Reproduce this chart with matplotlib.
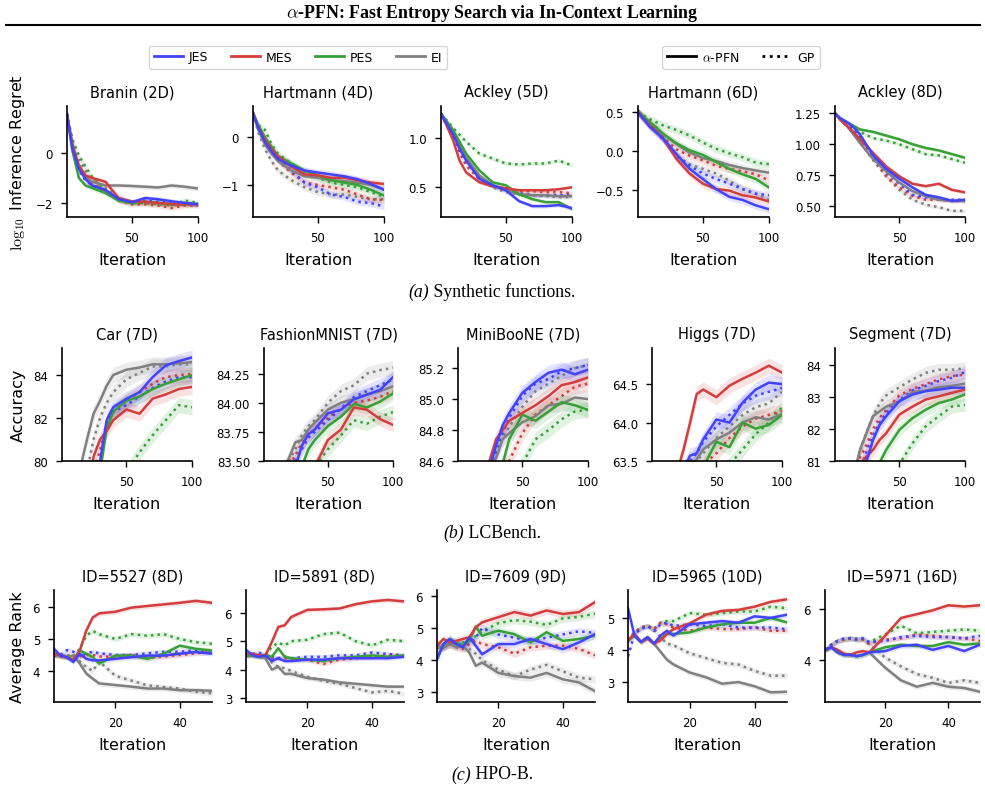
import numpy as np
import matplotlib.pyplot as plt
from matplotlib.lines import Line2D

plt.rcParams["font.family"] = "DejaVu Sans"
plt.rcParams["mathtext.fontset"] = "cm"

methods = ["JES", "MES", "PES", "EI"]
colors = ["#4343ff", "#d43d3d", "#37a137", "#808080"]

x_syn = [1, 5, 10, 15, 20, 30, 40, 50, 60, 70, 80, 90, 100]
x_lcb = [1, 15, 20, 25, 30, 35, 40, 50, 60, 70, 80, 90, 100]
x_hpo = [1, 3, 5, 7, 9, 11, 13, 15, 20, 25, 30, 35, 40, 45, 50]

# each block: rows are JES, MES, PES, EI
# ---- (a) synthetic functions, log10 inference regret
branin_pfn = [
    [1.55, 0.2, -0.64, -1.04, -1.3, -1.48, -1.84, -1.97, -1.8, -1.85, -1.93, -2.0, -2.05],
    [1.55, 0.3, -0.5, -0.9, -1.0, -1.15, -1.8, -1.95, -1.95, -2.0, -2.05, -2.05, -2.05],
    [1.55, 0.1, -1.0, -1.3, -1.4, -1.6, -1.9, -2.0, -1.95, -2.0, -2.05, -2.05, -2.05],
    [1.55, 0.4, -0.6, -1.0, -1.15, -1.3, -1.3, -1.32, -1.35, -1.38, -1.3, -1.35, -1.42],
]
branin_gp = [
    [1.55, 0.3, -0.7, -1.1, -1.3, -1.5, -1.85, -1.95, -1.9, -1.95, -2.0, -2.0, -2.05],
    [1.55, 0.4, -0.5, -0.9, -1.2, -1.55, -1.9, -2.05, -2.05, -2.1, -2.2, -2.1, -2.1],
    [1.55, 0.56, -0.1, -0.55, -0.95, -1.5, -1.9, -2.0, -2.0, -2.05, -2.1, -1.9, -2.0],
    [1.55, 0.5, -0.3, -0.7, -1.1, -1.4, -1.8, -1.95, -2.0, -2.0, -2.05, -2.05, -2.05],
]
hart4_pfn = [
    [0.5, 0.2, -0.1, -0.3, -0.46, -0.6, -0.7, -0.74, -0.78, -0.82, -0.88, -0.98, -1.1],
    [0.5, 0.2, -0.05, -0.25, -0.4, -0.62, -0.78, -0.8, -0.85, -0.85, -0.9, -0.95, -0.98],
    [0.5, 0.25, 0.0, -0.2, -0.4, -0.55, -0.7, -0.8, -0.9, -0.95, -1.0, -1.1, -1.22],
    [0.5, 0.15, -0.15, -0.35, -0.5, -0.7, -0.82, -0.85, -0.9, -0.92, -0.95, -1.0, -1.1],
]
hart4_gp = [
    [0.5, 0.15, -0.1, -0.3, -0.45, -0.7, -0.95, -1.05, -1.2, -1.25, -1.35, -1.38, -1.45],
    [0.5, 0.2, -0.1, -0.3, -0.5, -0.75, -0.95, -1.0, -1.05, -1.1, -1.2, -1.3, -1.32],
    [0.5, 0.25, 0.15, -0.15, -0.35, -0.55, -0.75, -0.85, -0.95, -1.0, -1.05, -1.15, -1.25],
    [0.5, 0.1, -0.25, -0.5, -0.7, -0.9, -1.05, -1.15, -1.2, -1.2, -1.25, -1.3, -1.3],
]
ack5_pfn = [
    [1.24, 1.15, 1.04, 0.89, 0.77, 0.585, 0.52, 0.47, 0.36, 0.31, 0.31, 0.32, 0.29],
    [1.24, 1.13, 0.98, 0.77, 0.65, 0.55, 0.51, 0.49, 0.47, 0.47, 0.47, 0.48, 0.50],
    [1.24, 1.17, 1.08, 0.96, 0.84, 0.67, 0.55, 0.52, 0.43, 0.38, 0.35, 0.35, 0.28],
    [1.24, 1.16, 1.06, 0.94, 0.8, 0.62, 0.52, 0.47, 0.43, 0.42, 0.42, 0.41, 0.41],
]
ack5_gp = [
    [1.24, 1.15, 1.02, 0.88, 0.76, 0.6, 0.52, 0.47, 0.44, 0.42, 0.42, 0.42, 0.42],
    [1.24, 1.13, 1.0, 0.85, 0.72, 0.58, 0.52, 0.48, 0.46, 0.46, 0.45, 0.45, 0.44],
    [1.24, 1.18, 1.1, 1.03, 0.96, 0.84, 0.79, 0.74, 0.73, 0.74, 0.74, 0.77, 0.72],
    [1.24, 1.16, 1.05, 0.92, 0.78, 0.58, 0.5, 0.45, 0.43, 0.42, 0.41, 0.40, 0.40],
]
hart6_pfn = [
    [0.5, 0.42, 0.31, 0.24, 0.16, -0.04, -0.23, -0.36, -0.49, -0.59, -0.63, -0.7, -0.75],
    [0.5, 0.42, 0.33, 0.25, 0.16, -0.1, -0.29, -0.42, -0.49, -0.51, -0.57, -0.6, -0.65],
    [0.5, 0.44, 0.37, 0.3, 0.22, 0.1, 0.01, -0.05, -0.14, -0.23, -0.3, -0.36, -0.47],
    [0.5, 0.44, 0.37, 0.3, 0.22, 0.09, -0.02, -0.09, -0.13, -0.18, -0.22, -0.25, -0.28],
]
hart6_gp = [
    [0.5, 0.42, 0.32, 0.24, 0.15, -0.06, -0.19, -0.29, -0.36, -0.42, -0.49, -0.55, -0.57],
    [0.5, 0.43, 0.34, 0.26, 0.18, 0.02, -0.06, -0.12, -0.19, -0.23, -0.26, -0.3, -0.38],
    [0.5, 0.46, 0.41, 0.37, 0.33, 0.27, 0.2, 0.11, 0.03, -0.03, -0.08, -0.15, -0.17],
    [0.5, 0.42, 0.33, 0.24, 0.15, -0.06, -0.17, -0.23, -0.29, -0.38, -0.49, -0.55, -0.63],
]
ack8_pfn = [
    [1.25, 1.21, 1.18, 1.14, 1.08, 0.91, 0.8, 0.72, 0.65, 0.59, 0.57, 0.54, 0.55],
    [1.25, 1.2, 1.15, 1.1, 1.04, 0.93, 0.82, 0.74, 0.68, 0.66, 0.68, 0.63, 0.61],
    [1.25, 1.21, 1.18, 1.15, 1.12, 1.1, 1.07, 1.04, 1.0, 0.97, 0.95, 0.92, 0.89],
    [1.25, 1.2, 1.15, 1.08, 1.01, 0.88, 0.78, 0.69, 0.62, 0.58, 0.55, 0.54, 0.54],
]
ack8_gp = [
    [1.25, 1.21, 1.17, 1.12, 1.06, 0.92, 0.77, 0.68, 0.59, 0.57, 0.56, 0.55, 0.55],
    [1.25, 1.2, 1.15, 1.1, 1.04, 0.9, 0.74, 0.65, 0.58, 0.55, 0.55, 0.54, 0.54],
    [1.25, 1.21, 1.17, 1.13, 1.1, 1.05, 1.03, 1.0, 0.96, 0.92, 0.91, 0.88, 0.85],
    [1.25, 1.2, 1.15, 1.09, 1.02, 0.87, 0.74, 0.63, 0.55, 0.51, 0.49, 0.46, 0.46],
]

# ---- (b) LCBench, accuracy
car_pfn = [
    [74, 76, 77.5, 78.5, 80.0, 81.9, 82.5, 82.9, 83.2, 83.9, 84.45, 84.65, 84.82],
    [74, 76.5, 78.0, 80.2, 81.0, 81.4, 81.9, 82.4, 82.2, 82.9, 83.1, 83.35, 83.45],
    [74, 76, 77, 78.3, 79.5, 81.5, 82.3, 82.8, 83.0, 83.35, 83.6, 83.8, 84.0],
    [75, 79.7, 81.0, 82.2, 82.8, 83.5, 84.0, 84.25, 84.35, 84.5, 84.5, 84.55, 84.6],
]
car_gp = [
    [74, 76, 77.5, 78.8, 79.8, 81.8, 82.3, 82.6, 83.0, 83.4, 83.7, 83.9, 83.9],
    [74, 76.5, 78, 79.5, 80.5, 81.8, 82.3, 82.8, 83.2, 83.6, 83.9, 84.0, 84.05],
    [72, 73.5, 74.5, 75.5, 76.5, 77.5, 78.3, 79.5, 80.4, 81.2, 81.9, 82.6, 82.5],
    [75, 78.5, 79.5, 81.0, 82.0, 82.7, 83.2, 83.8, 84.1, 84.4, 84.4, 84.5, 84.5],
]
fashion_pfn = [
    [83.0, 83.25, 83.35, 83.45, 83.63, 83.73, 83.77, 83.91, 83.94, 84.03, 84.07, 84.11, 84.22],
    [83.0, 83.2, 83.3, 83.35, 83.4, 83.42, 83.45, 83.68, 83.77, 83.96, 83.94, 83.86, 83.81],
    [83.0, 83.2, 83.3, 83.38, 83.45, 83.6, 83.68, 83.8, 83.88, 83.99, 83.96, 84.01, 84.08],
    [83.1, 83.42, 83.52, 83.66, 83.68, 83.77, 83.83, 83.94, 84.0, 84.03, 84.07, 84.1, 84.14],
]
fashion_gp = [
    [83.0, 83.3, 83.4, 83.5, 83.6, 83.7, 83.75, 83.85, 83.95, 84.05, 84.1, 84.15, 84.2],
    [83.0, 83.35, 83.45, 83.55, 83.65, 83.72, 83.78, 83.87, 83.95, 84.0, 84.02, 84.05, 84.1],
    [82.8, 83.0, 83.1, 83.2, 83.3, 83.38, 83.45, 83.6, 83.72, 83.85, 83.82, 83.88, 83.92],
    [83.1, 83.4, 83.5, 83.6, 83.72, 83.8, 83.85, 84.0, 84.1, 84.15, 84.25, 84.28, 84.3],
]
miniboone_pfn = [
    [84.2, 84.35, 84.45, 84.55, 84.7, 84.83, 84.91, 85.04, 85.11, 85.17, 85.19, 85.16, 85.19],
    [84.2, 84.35, 84.45, 84.6, 84.74, 84.8, 84.86, 84.91, 84.96, 85.02, 85.09, 85.11, 85.14],
    [84.1, 84.25, 84.35, 84.45, 84.52, 84.58, 84.74, 84.9, 84.86, 84.92, 84.98, 84.96, 84.93],
    [84.2, 84.35, 84.45, 84.55, 84.62, 84.74, 84.78, 84.85, 84.89, 84.96, 84.97, 85.01, 85.0],
]
miniboone_gp = [
    [84.2, 84.35, 84.45, 84.55, 84.65, 84.78, 84.88, 85.02, 85.1, 85.13, 85.18, 85.2, 85.22],
    [84.1, 84.25, 84.35, 84.42, 84.5, 84.55, 84.6, 84.78, 84.9, 84.96, 85.02, 85.08, 85.1],
    [84.0, 84.15, 84.25, 84.32, 84.38, 84.43, 84.48, 84.58, 84.74, 84.8, 84.87, 84.92, 84.93],
    [84.2, 84.35, 84.45, 84.55, 84.65, 84.75, 84.82, 84.95, 85.05, 85.1, 85.15, 85.2, 85.22],
]
higgs_pfn = [
    [62.5, 62.9, 63.1, 63.4, 63.57, 63.6, 63.78, 64.04, 64.0, 64.26, 64.43, 64.52, 64.5],
    [62.5, 63.0, 63.35, 63.65, 64.0, 64.37, 64.43, 64.33, 64.48, 64.57, 64.65, 64.74, 64.65],
    [62.3, 62.6, 62.8, 63.0, 63.15, 63.3, 63.42, 63.75, 63.68, 64.0, 63.92, 63.97, 64.1],
    [62.5, 62.9, 63.1, 63.25, 63.4, 63.52, 63.65, 63.78, 63.87, 64.0, 64.07, 64.04, 64.11],
]
higgs_gp = [
    [62.5, 62.9, 63.1, 63.3, 63.5, 63.6, 63.75, 63.95, 64.1, 64.25, 64.35, 64.4, 64.45],
    [62.3, 62.6, 62.8, 63.0, 63.15, 63.3, 63.45, 63.6, 63.8, 63.95, 64.05, 64.1, 64.15],
    [62.0, 62.3, 62.5, 62.7, 62.85, 63.0, 63.1, 63.3, 63.45, 63.65, 63.85, 64.0, 64.2],
    [62.5, 62.9, 63.1, 63.25, 63.4, 63.5, 63.6, 63.8, 63.95, 64.1, 64.2, 64.25, 64.4],
]
segment_pfn = [
    [78.5, 79.5, 80.2, 81.0, 81.66, 82.13, 82.4, 82.87, 83.08, 83.18, 83.23, 83.29, 83.29],
    [78.5, 80.0, 80.9, 81.14, 81.35, 81.66, 81.87, 82.45, 82.7, 82.92, 83.02, 83.13, 83.23],
    [78.0, 79.0, 79.6, 80.1, 80.5, 80.95, 81.35, 81.97, 82.34, 82.6, 82.81, 82.92, 83.08],
    [79.0, 80.5, 81.35, 81.87, 82.4, 82.55, 82.7, 82.85, 83.15, 83.2, 83.3, 83.35, 83.42],
]
segment_gp = [
    [78.5, 80.0, 80.7, 81.3, 81.8, 82.2, 82.5, 82.9, 83.2, 83.35, 83.5, 83.6, 83.78],
    [78.5, 80.3, 81.1, 81.5, 82.0, 82.35, 82.6, 83.05, 83.25, 83.4, 83.55, 83.65, 83.7],
    [77.0, 78.0, 78.5, 79.0, 79.5, 79.9, 80.3, 80.9, 81.55, 82.08, 82.4, 82.7, 82.75],
    [79.0, 80.6, 81.3, 81.9, 82.4, 82.8, 83.05, 83.3, 83.55, 83.75, 83.85, 83.85, 83.9],
]

# ---- (c) HPO-B, average rank
id5527_pfn = [
    [4.69, 4.48, 4.43, 4.28, 4.54, 4.38, 4.33, 4.33, 4.38, 4.43, 4.48, 4.48, 4.54, 4.59, 4.54],
    [4.54, 4.48, 4.43, 4.33, 4.64, 5.26, 5.67, 5.8, 5.85, 5.98, 6.03, 6.08, 6.13, 6.19, 6.13],
    [4.54, 4.48, 4.43, 4.33, 4.64, 4.54, 4.43, 4.23, 4.48, 4.48, 4.38, 4.54, 4.79, 4.69, 4.64],
    [4.54, 4.48, 4.43, 4.48, 4.23, 3.92, 3.76, 3.61, 3.56, 3.51, 3.45, 3.45, 3.4, 3.4, 3.38],
]
id5527_gp = [
    [4.5, 4.5, 4.65, 4.6, 4.45, 4.55, 4.6, 4.55, 4.5, 4.5, 4.55, 4.6, 4.6, 4.65, 4.6],
    [4.5, 4.45, 4.45, 4.4, 4.45, 4.5, 4.5, 4.45, 4.45, 4.5, 4.4, 4.45, 4.5, 4.55, 4.6],
    [4.5, 4.5, 4.45, 4.45, 4.7, 5.1, 5.25, 5.15, 5.0, 5.15, 5.1, 5.15, 5.0, 4.9, 4.85],
    [4.5, 4.5, 4.5, 4.45, 4.3, 4.12, 4.0, 4.3, 3.85, 3.7, 3.55, 3.5, 3.45, 3.35, 3.3],
]
id5891_pfn = [
    [4.7, 4.5, 4.45, 4.5, 4.3, 4.4, 4.3, 4.3, 4.35, 4.35, 4.4, 4.4, 4.4, 4.4, 4.45],
    [4.56, 4.56, 4.5, 4.5, 4.97, 5.5, 5.56, 5.85, 6.1, 6.12, 6.15, 6.3, 6.4, 6.45, 6.4],
    [4.5, 4.5, 4.45, 4.5, 4.45, 4.75, 4.45, 4.4, 4.35, 4.3, 4.4, 4.45, 4.5, 4.45, 4.5],
    [4.5, 4.5, 4.45, 4.4, 4.0, 4.1, 3.85, 3.85, 3.7, 3.65, 3.55, 3.5, 3.45, 3.4, 3.4],
]
id5891_gp = [
    [4.5, 4.55, 4.6, 4.5, 4.45, 4.4, 4.45, 4.4, 4.45, 4.45, 4.5, 4.5, 4.6, 4.55, 4.5],
    [4.5, 4.5, 4.5, 4.55, 4.4, 4.4, 4.4, 4.35, 4.35, 4.2, 4.35, 4.4, 4.45, 4.5, 4.5],
    [4.5, 4.5, 4.5, 4.5, 4.8, 4.95, 4.85, 5.0, 5.05, 5.25, 5.3, 5.0, 4.85, 5.05, 5.0],
    [4.5, 4.5, 4.45, 4.45, 4.25, 4.1, 4.05, 3.95, 3.75, 3.6, 3.5, 3.35, 3.2, 3.25, 3.15],
]
id7609_pfn = [
    [4.03, 4.5, 4.66, 4.5, 4.4, 4.71, 4.45, 4.18, 4.5, 4.5, 4.66, 4.5, 4.34, 4.55, 4.81],
    [4.45, 4.66, 4.55, 4.6, 4.66, 4.71, 5.02, 5.18, 5.34, 5.5, 5.39, 5.55, 5.44, 5.5, 5.81],
    [4.03, 4.5, 4.66, 4.55, 4.45, 4.6, 5.05, 4.76, 4.92, 4.81, 4.55, 4.87, 4.6, 4.66, 4.76],
    [4.4, 4.4, 4.5, 4.4, 4.45, 4.24, 3.82, 3.92, 3.6, 3.5, 3.45, 3.6, 3.4, 3.3, 3.03],
]
id7609_gp = [
    [4.5, 4.4, 4.6, 4.5, 4.5, 4.55, 4.7, 5.0, 4.8, 4.7, 4.6, 4.7, 4.8, 4.9, 4.85],
    [4.4, 4.4, 4.5, 4.4, 4.35, 4.5, 4.6, 4.5, 4.4, 4.2, 4.4, 4.45, 4.45, 4.35, 4.15],
    [4.4, 4.45, 4.5, 4.45, 4.55, 4.6, 4.75, 4.9, 5.15, 5.25, 5.2, 5.1, 5.3, 5.35, 5.45],
    [4.4, 4.45, 4.5, 4.5, 4.4, 4.35, 4.2, 4.0, 3.7, 3.5, 3.7, 3.85, 3.65, 3.45, 3.4],
]
id5965_pfn = [
    [5.3, 4.45, 4.25, 4.4, 4.2, 4.45, 4.6, 4.45, 4.8, 4.85, 4.9, 4.85, 5.05, 5.0, 5.1],
    [4.3, 4.5, 4.25, 4.35, 4.2, 4.3, 4.5, 4.65, 4.83, 5.1, 5.22, 5.25, 5.35, 5.5, 5.58],
    [4.3, 4.45, 4.25, 4.4, 4.2, 4.35, 4.5, 4.5, 4.55, 4.7, 4.8, 4.85, 4.85, 5.0, 4.86],
    [4.3, 4.45, 4.25, 4.4, 4.2, 3.95, 3.7, 3.55, 3.3, 3.15, 2.95, 3.0, 2.87, 2.68, 2.7],
]
id5965_gp = [
    [3.8, 4.5, 4.65, 4.75, 4.6, 4.8, 4.85, 4.75, 4.8, 4.75, 4.8, 4.7, 4.7, 4.7, 4.65],
    [4.3, 4.55, 4.7, 4.75, 4.65, 4.85, 4.8, 4.7, 4.6, 4.7, 4.65, 4.65, 4.7, 4.6, 4.6],
    [4.3, 4.55, 4.7, 4.75, 4.65, 4.85, 4.9, 4.9, 5.15, 5.1, 5.15, 5.2, 5.2, 5.35, 5.3],
    [4.3, 4.55, 4.7, 4.75, 4.65, 4.4, 4.2, 4.15, 3.9, 3.75, 3.6, 3.55, 3.35, 3.2, 3.2],
]
id5971_pfn = [
    [4.4, 4.5, 4.3, 4.2, 4.2, 4.15, 4.2, 4.3, 4.35, 4.55, 4.6, 4.4, 4.55, 4.35, 4.6],
    [4.4, 4.5, 4.4, 4.25, 4.2, 4.3, 4.35, 4.3, 4.95, 5.65, 5.8, 5.95, 6.15, 6.1, 6.15],
    [4.4, 4.5, 4.3, 4.2, 4.2, 4.15, 4.2, 4.3, 4.5, 4.6, 4.55, 4.55, 4.7, 4.6, 4.65],
    [4.4, 4.5, 4.3, 4.2, 4.2, 4.15, 4.2, 4.3, 3.7, 3.2, 2.95, 3.1, 2.95, 2.9, 2.75],
]
id5971_gp = [
    [4.4, 4.6, 4.75, 4.85, 4.85, 4.8, 4.85, 4.7, 4.75, 4.9, 4.95, 4.9, 4.9, 4.85, 4.95],
    [4.4, 4.6, 4.75, 4.8, 4.85, 4.8, 4.8, 4.65, 4.8, 4.85, 5.0, 4.95, 4.9, 4.85, 4.75],
    [4.4, 4.6, 4.75, 4.8, 4.85, 4.8, 4.85, 4.7, 5.0, 5.35, 5.05, 5.1, 5.15, 5.2, 5.15],
    [4.4, 4.6, 4.75, 4.8, 4.85, 4.85, 4.8, 4.6, 4.1, 3.75, 3.45, 3.3, 3.1, 3.2, 3.1],
]

# half-width of the shaded band in each panel
bands = {
    "Branin (2D)": 0.1, "Hartmann (4D)": 0.07, "Ackley (5D)": 0.02,
    "Hartmann (6D)": 0.05, "Ackley (8D)": 0.015,
    "Car (7D)": 0.35, "FashionMNIST (7D)": 0.06, "MiniBooNE (7D)": 0.05,
    "Higgs (7D)": 0.1, "Segment (7D)": 0.2,
    "ID=5527 (8D)": 0.08, "ID=5891 (8D)": 0.08, "ID=7609 (9D)": 0.12,
    "ID=5965 (10D)": 0.08, "ID=5971 (16D)": 0.1,
}

rows = [
    [("Branin (2D)", x_syn, branin_pfn, branin_gp, (-2.56, 1.88), [-2, 0]),
     ("Hartmann (4D)", x_syn, hart4_pfn, hart4_gp, (-1.67, 0.65), [-1, 0]),
     ("Ackley (5D)", x_syn, ack5_pfn, ack5_gp, (0.2, 1.32), [0.5, 1.0]),
     ("Hartmann (6D)", x_syn, hart6_pfn, hart6_gp, (-0.85, 0.58), [-0.5, 0.0, 0.5]),
     ("Ackley (8D)", x_syn, ack8_pfn, ack8_gp, (0.41, 1.31), [0.5, 0.75, 1.0, 1.25])],
    [("Car (7D)", x_lcb, car_pfn, car_gp, (80, 85.26), [80, 82, 84]),
     ("FashionMNIST (7D)", x_lcb, fashion_pfn, fashion_gp, (83.5, 84.47), [83.5, 83.75, 84.0, 84.25]),
     ("MiniBooNE (7D)", x_lcb, miniboone_pfn, miniboone_gp, (84.6, 85.33), [84.6, 84.8, 85.0, 85.2]),
     ("Higgs (7D)", x_lcb, higgs_pfn, higgs_gp, (63.5, 64.97), [63.5, 64.0, 64.5]),
     ("Segment (7D)", x_lcb, segment_pfn, segment_gp, (81, 84.53), [81, 82, 83, 84])],
    [("ID=5527 (8D)", x_hpo, id5527_pfn, id5527_gp, (3.03, 6.53), [4, 5, 6]),
     ("ID=5891 (8D)", x_hpo, id5891_pfn, id5891_gp, (2.86, 6.8), [3, 4, 5, 6]),
     ("ID=7609 (9D)", x_hpo, id7609_pfn, id7609_gp, (2.69, 6.19), [3, 4, 5, 6]),
     ("ID=5965 (10D)", x_hpo, id5965_pfn, id5965_gp, (2.38, 5.87), [3, 4, 5]),
     ("ID=5971 (16D)", x_hpo, id5971_pfn, id5971_gp, (2.35, 6.75), [4, 6])],
]
row_xticks = [[50, 100], [50, 100], [20, 40]]
row_xlim = [(1, 100), (1, 100), (1, 50)]
row_ylabels = [r"$\log_{10}$ Inference Regret", "Accuracy", "Average Rank"]
captions = [("(a)", " Synthetic functions."), ("(b)", " LCBench."), ("(c)", " HPO-B.")]

# layout in pixels (figure is 985 x 803)
W, H = 985, 803
row_y = [(107, 218), (349, 462), (591, 703)]
row_x = [
    [(67, 198), (253, 384), (441, 572), (638, 769), (835, 965)],
    [(62, 192), (264, 393), (458, 588), (652, 782), (835, 965)],
    [(54, 212), (246, 404), (437, 595), (628, 787), (825, 980)],
]
caption_y = [292, 533, 775]

fig = plt.figure(figsize=(W / 100, H / 100), dpi=100)
renderer = fig.canvas.get_renderer()

for r, panels in enumerate(rows):
    top, bot = row_y[r]
    for c, (name, x, pfn, gp, ylim, yticks) in enumerate(panels):
        l, rr = row_x[r][c]
        ax = fig.add_axes([l / W, 1 - bot / H, (rr - l) / W, (bot - top) / H])
        band = bands[name]
        for vals, ls in ((gp, ":"), (pfn, "-")):
            for k in [3, 2, 1, 0]:
                v = np.array(vals[k], dtype=float)
                ax.fill_between(x, v - band, v + band, color=colors[k], alpha=0.15, lw=0)
                ax.plot(x, v, color=colors[k], ls=ls, lw=1.8)
        ax.set_xlim(*row_xlim[r])
        ax.set_ylim(*ylim)
        ax.set_xticks(row_xticks[r])
        ax.set_yticks(yticks)
        ax.ticklabel_format(axis="y", useOffset=False)
        ax.set_title(name, fontsize=10.5, pad=7)
        ax.set_xlabel("Iteration", fontsize=11.5, labelpad=6)
        ax.tick_params(labelsize=8.5, length=4.5, width=1, pad=5.5)
        for s in ["top", "right"]:
            ax.spines[s].set_visible(False)
        for s in ["left", "bottom"]:
            ax.spines[s].set_linewidth(1.2)
    fig.text(18 / W, 1 - (top + bot) / 2 / H, row_ylabels[r], rotation=90,
             ha="center", va="center", fontsize=11.5)

    # caption: italic tag + upright text, centred as one line
    tag, rest = captions[r]
    ty = 1 - caption_y[r] / H
    t1 = fig.text(0, ty, tag, ha="left", va="center", fontsize=12.8,
                  family="Liberation Serif", style="italic")
    t2 = fig.text(0, ty, rest, ha="left", va="center", fontsize=12.8,
                  family="Liberation Serif")
    w1 = t1.get_window_extent(renderer).width
    w2 = t2.get_window_extent(renderer).width
    x0 = 492 - (w1 + w2) / 2
    t1.set_x(x0 / W)
    t2.set_x((x0 + w1) / W)

# page header
fig.text(0.5, 1 - 14 / H, r"$\alpha$-PFN: Fast Entropy Search via In-Context Learning",
         ha="center", va="center", fontsize=12.9, family="Liberation Serif",
         weight="bold")
fig.add_artist(Line2D([6 / W, 980 / W], [1 - 26 / H, 1 - 26 / H], color="black", lw=1.5))

# legends
h1 = [Line2D([], [], color=colors[k], lw=2) for k in range(4)]
fig.legend(h1, methods, loc="center", bbox_to_anchor=(298 / W, 1 - 58 / H), ncol=4,
           fontsize=9, handlelength=2.3, handletextpad=0.5, columnspacing=1.8,
           frameon=True, borderpad=0.4)
h2 = [Line2D([], [], color="black", lw=2, ls="-"), Line2D([], [], color="black", lw=2, ls=":")]
fig.legend(h2, [r"$\alpha$-PFN", "GP"], loc="center", bbox_to_anchor=(741 / W, 1 - 58 / H),
           ncol=2, fontsize=9, handlelength=2.3, handletextpad=0.5, columnspacing=1.8,
           frameon=True, borderpad=0.4)

fig.savefig("out.png", dpi=100)
